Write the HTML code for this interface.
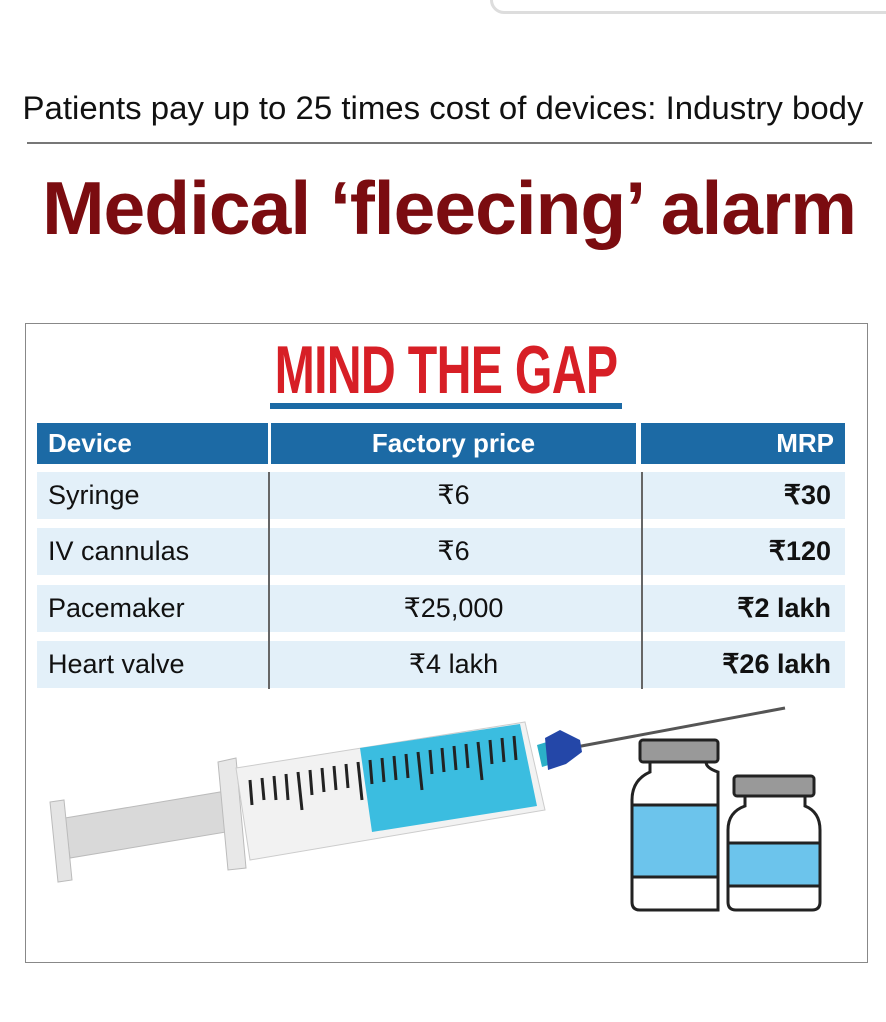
<!DOCTYPE html>
<html><head><meta charset="utf-8"><style>
body{margin:0;width:886px;height:1022px;background:#fff;position:relative;overflow:hidden;font-family:"Liberation Sans",sans-serif}
.a{position:absolute}
.topbox{left:490px;top:-20px;width:420px;height:28px;border:3px solid #ddd;border-radius:14px;background:#fff}
.sub{left:0;width:886px;top:90px;text-align:center;font-size:32px;color:#111;transform:scaleX(1.03);white-space:nowrap}
.rule{left:27px;top:142px;width:845px;height:2px;background:#777}
.head{left:0;width:898px;top:165px;text-align:center;font-size:75px;font-weight:bold;color:#7b0c10;letter-spacing:-1px;white-space:nowrap;transform:scaleX(1.0)}
.box{left:25px;top:323px;width:841px;height:638px;border:1.5px solid #888}
.mind{left:146px;top:332px;width:600px;text-align:center;font-size:68px;line-height:76px;font-weight:bold;color:#d71f26;transform:scaleX(0.71);white-space:nowrap;letter-spacing:-1px}
.ul{left:270px;top:403px;width:352px;height:6px;background:#1c6aa5}
.th{top:423px;height:41px;background:#1c6aa5;color:#fff;font-weight:bold;font-size:26px;line-height:41px}
.row{height:47px;background:#e3f0f9;font-size:27px;line-height:47px;color:#111;white-space:nowrap}
.vd{width:1.5px;background:#666;top:472px;height:217px}
</style></head><body>
<div class="a topbox"></div>
<div class="a sub">Patients pay up to 25 times cost of devices: Industry body</div>
<div class="a rule"></div>
<div class="a head">Medical ‘fleecing’ alarm</div>
<div class="a box"></div>
<div class="a mind">MIND THE GAP</div>
<div class="a ul"></div>
<div class="a th" style="left:37px;width:220px;padding-left:11px">Device</div>
<div class="a th" style="left:271px;width:365px;text-align:center">Factory price</div>
<div class="a th" style="left:641px;width:193px;text-align:right;padding-right:11px">MRP</div>

<div class="a row" style="left:37px;top:472px;width:808px"></div>
<div class="a row" style="left:37px;top:528px;width:808px"></div>
<div class="a row" style="left:37px;top:585px;width:808px"></div>
<div class="a row" style="left:37px;top:641px;width:808px"></div>
<div class="a vd" style="left:268px"></div>
<div class="a vd" style="left:641px"></div>

<div class="a row" style="background:none;left:48px;top:472px">Syringe</div>
<div class="a row" style="background:none;left:48px;top:528px">IV cannulas</div>
<div class="a row" style="background:none;left:48px;top:585px">Pacemaker</div>
<div class="a row" style="background:none;left:48px;top:641px">Heart valve</div>
<div class="a row" style="background:none;left:271px;width:365px;text-align:center;top:472px">₹6</div>
<div class="a row" style="background:none;left:271px;width:365px;text-align:center;top:528px">₹6</div>
<div class="a row" style="background:none;left:271px;width:365px;text-align:center;top:585px">₹25,000</div>
<div class="a row" style="background:none;left:271px;width:365px;text-align:center;top:641px">₹4 lakh</div>
<div class="a row" style="background:none;left:641px;width:190px;text-align:right;top:472px;font-weight:bold">₹30</div>
<div class="a row" style="background:none;left:641px;width:190px;text-align:right;top:528px;font-weight:bold">₹120</div>
<div class="a row" style="background:none;left:641px;width:190px;text-align:right;top:585px;font-weight:bold">₹2 lakh</div>
<div class="a row" style="background:none;left:641px;width:190px;text-align:right;top:641px;font-weight:bold">₹26 lakh</div>

<svg class="a" style="left:0;top:0" width="886" height="1022">
 <line x1="560" y1="750" x2="785" y2="708" stroke="#555" stroke-width="3"/>
 <polygon points="65,818 232,790 238,830 70,858" fill="#d9d9d9" stroke="#bbb"/>
 <polygon points="50,802 64,800 72,880 58,882" fill="#e4e4e4" stroke="#bbb"/>
 <polygon points="218,762 236,758 246,868 228,870" fill="#e8e8e8" stroke="#bbb"/>
 <polygon points="236,768 525,722 545,810 250,860" fill="#f2f2f2" stroke="#ccc"/>
 <polygon points="360,748 520,724 537,806 372,832" fill="#3bbde0"/>
 <polygon points="537,745 560,738 565,760 542,767" fill="#2bb0c8"/>
 <polygon points="545,738 560,730 580,740 582,752 566,764 548,770" fill="#2447a8"/>
 <g stroke="#222" stroke-width="3">
  <line x1="250" y1="780" x2="252" y2="805"/><line x1="262" y1="778" x2="264" y2="800"/>
  <line x1="274" y1="776" x2="276" y2="800"/><line x1="286" y1="774" x2="288" y2="800"/>
  <line x1="298" y1="772" x2="302" y2="810"/><line x1="310" y1="770" x2="312" y2="795"/>
  <line x1="322" y1="768" x2="324" y2="792"/><line x1="334" y1="766" x2="336" y2="790"/>
  <line x1="346" y1="764" x2="348" y2="788"/><line x1="358" y1="762" x2="362" y2="800"/>
  <line x1="370" y1="760" x2="372" y2="784"/><line x1="382" y1="758" x2="384" y2="782"/>
  <line x1="394" y1="756" x2="396" y2="780"/><line x1="406" y1="754" x2="408" y2="778"/>
  <line x1="418" y1="752" x2="422" y2="790"/><line x1="430" y1="750" x2="432" y2="774"/>
  <line x1="442" y1="748" x2="444" y2="772"/><line x1="454" y1="746" x2="456" y2="770"/>
  <line x1="466" y1="744" x2="468" y2="768"/><line x1="478" y1="742" x2="482" y2="780"/>
  <line x1="490" y1="740" x2="492" y2="764"/><line x1="502" y1="738" x2="504" y2="762"/>
  <line x1="514" y1="736" x2="516" y2="760"/>
 </g>
 <g stroke="#222" stroke-width="3">
  <path d="M650,762 L650,772 Q632,780 632,800 L632,902 Q632,910 640,910 L718,910 L718,772 Q706,768 706,762 Z" fill="#fff"/>
  <rect x="632" y="805" width="86" height="72" fill="#6cc4ec"/>
  <rect x="640" y="740" width="78" height="22" rx="3" fill="#999"/>
  <path d="M745,796 L745,806 Q728,812 728,830 L728,902 Q728,910 736,910 L812,910 Q820,910 820,902 L820,830 Q820,812 805,806 L805,796 Z" fill="#fff"/>
  <rect x="728" y="843" width="92" height="43" fill="#6cc4ec"/>
  <rect x="734" y="776" width="80" height="20" rx="3" fill="#999"/>
 </g>
</svg>
</body></html>
